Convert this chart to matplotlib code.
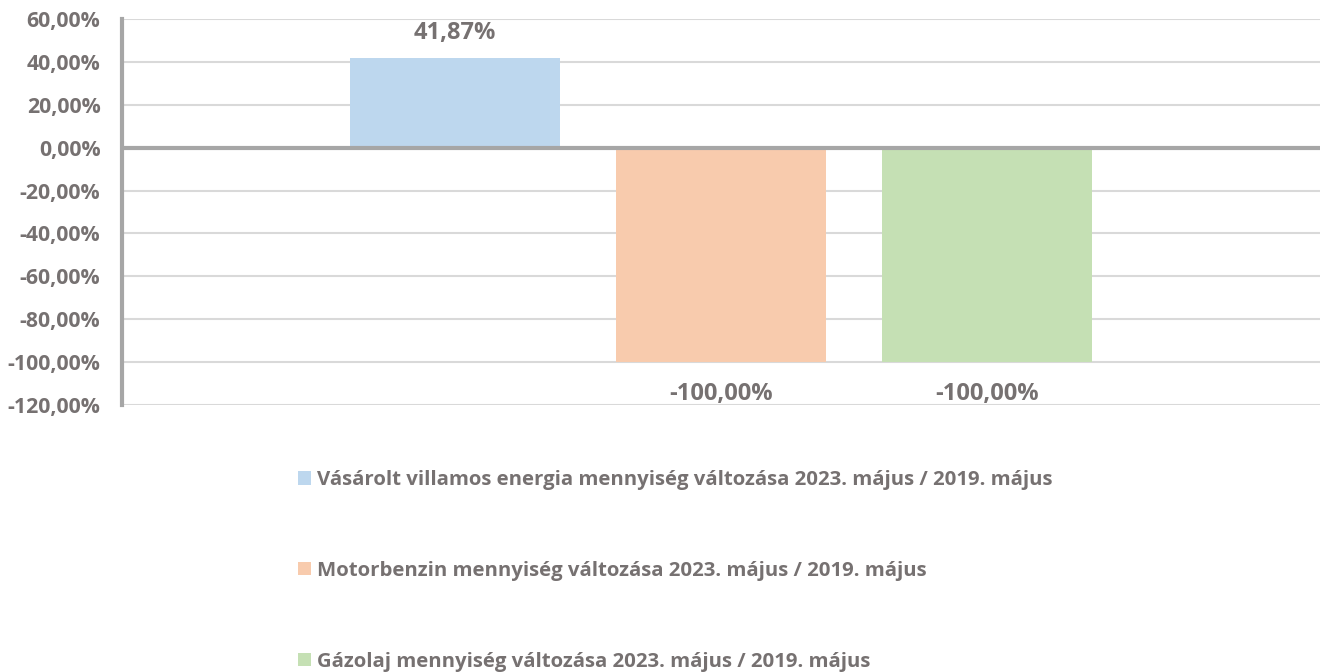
import matplotlib.pyplot as plt
from matplotlib.ticker import FuncFormatter

# --- Données ---
series = [
    "Vásárolt villamos energia mennyiség változása 2023. május / 2019. május",
    "Motorbenzin mennyiség változása 2023. május / 2019. május",
    "Gázolaj mennyiség változása 2023. május / 2019. május",
]
values = [41.87, -100.00, -100.00]
colors = ["#BDD7EE", "#F8CBAD", "#C5E0B4"]

text_gray = "#767171"
plt.rcParams['font.family'] = ['Open Sans', 'DejaVu Sans']
plt.rcParams['font.weight'] = 'bold'

fig = plt.figure(figsize=(13.21, 6.72), dpi=100)
ax = fig.add_axes([122 / 1321, 1 - 405 / 672, 1198 / 1321, 386 / 672])

def pct(v, pos=None):
    return f"{v:.2f}".replace(".", ",") + "%"

positions = [-1, 0, 1]
bars = []
for x, v, c, name in zip(positions, values, colors, series):
    b = ax.bar(x, v, width=0.79, color=c, label=name, zorder=2)
    bars.append(b)
    # étiquettes sous les barres négatives un peu plus éloignées
    ax.bar_label(b, labels=[pct(v)], padding=9 if v >= 0 else 14, fontsize=17,
                 fontweight='bold', color=text_gray)

ax.set_xlim(-2.252, 2.252)
ax.set_ylim(-120, 60)
ax.set_yticks(range(-120, 61, 20))
ax.yaxis.set_major_formatter(FuncFormatter(pct))
ax.set_xticks([])
ax.tick_params(axis='y', length=0, pad=15.5, labelsize=15.3, labelcolor=text_gray)
for lbl in ax.get_yticklabels():
    lbl.set_fontweight('bold')

ax.grid(axis='y', color="#D9D9D9", linewidth=1.5, zorder=0)
ax.axhline(0, color="#A6A6A6", linewidth=3, zorder=3)
for s in ['top', 'right', 'bottom']:
    ax.spines[s].set_visible(False)
ax.spines['left'].set_color("#A6A6A6")
ax.spines['left'].set_linewidth(3)

leg = fig.legend(handles=[b[0] for b in bars], labels=series,
                 loc='upper left', bbox_to_anchor=(298 / 1321, 1 - 470 / 672),
                 frameon=False, fontsize=14.7, labelspacing=3.47,
                 handlelength=0.65, handleheight=0.65, handletextpad=0.3,
                 borderpad=0, borderaxespad=0)
for t in leg.get_texts():
    t.set_color(text_gray)
    t.set_fontweight('bold')

fig.savefig("out.png", dpi=100)
